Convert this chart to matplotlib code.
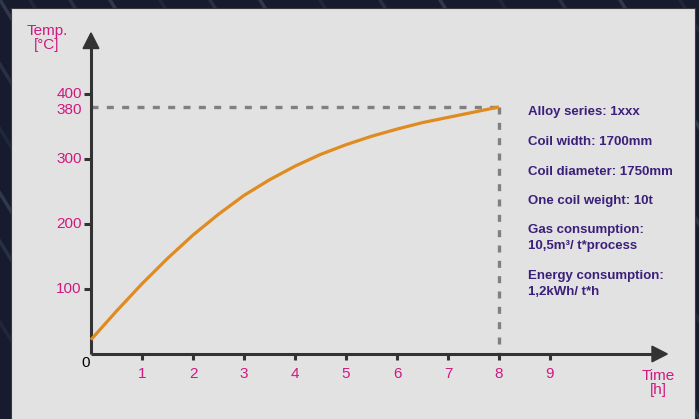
import matplotlib
matplotlib.use("Agg")
import matplotlib.pyplot as plt
from matplotlib.patches import Rectangle, Polygon
import numpy as np

# ---- data ----
hours = [0, 0.5, 1, 1.5, 2, 2.5, 3, 3.5, 4, 4.5, 5, 5.5, 6, 6.5, 7, 7.5, 8]
temps = [22, 66, 108, 147, 183, 215, 244, 268, 289, 307, 322, 335, 346, 356, 364, 372, 380]
x_ticks = [1, 2, 3, 4, 5, 6, 7, 8, 9]
y_ticks = [100, 200, 300, 380, 400]
end_time = 8
end_temp = 380
info_lines = [
    ("Alloy series: 1xxx", 112),
    ("Coil width: 1700mm", 142),
    ("Coil diameter: 1750mm", 172),
    ("One coil weight: 10t", 201),
    ("Gas consumption:", 230),
    ("10,5m\u00b3/ t*process", 246),
    ("Energy consumption:", 276),
    ("1,2kWh/ t*h", 292),
]

plt.rcParams['font.family'] = ['Liberation Sans', 'DejaVu Sans']

W, H = 699, 419
fig = plt.figure(figsize=(W / 100, H / 100), dpi=100)
fig.patch.set_facecolor('#161c2e')

def fx(px):
    return px / W

def fy(py):
    return 1 - py / H

# background streaks
rng_x = [-200, -150, -120, -80, -40, 0, 30, 70, 110, 160, 210, 260, 320, 380, 440, 500, 560, 620, 680]
for i, x0 in enumerate(rng_x):
    alpha = 0.08 + 0.06 * ((i * 7) % 3)
    fig.add_artist(plt.Line2D([fx(x0), fx(x0 + 260)], [fy(0), fy(419)],
                              transform=fig.transFigure, color='#a4adc2',
                              lw=2.5, alpha=alpha, zorder=0))

# panel
fig.add_artist(Rectangle((fx(11), fy(425)), fx(684), (425 - 8) / H,
                         transform=fig.transFigure, facecolor='#e2e2e2',
                         edgecolor='#3a3a3a', lw=0.8, zorder=1))

# axes: origin at px (91, 354), 51 px/h, 0.65 px/deg
left, right = 91, 91 + 51 * 11.5
bottom, top = 354, 354 - 0.65 * 500
ax = fig.add_axes([fx(left), fy(bottom), (right - left) / W, (bottom - top) / H])
ax.set_zorder(5)
ax.set_xlim(0, 11.5)
ax.set_ylim(0, 500)
ax.patch.set_alpha(0)
for s in ax.spines.values():
    s.set_visible(False)
ax.set_xticks([])
ax.set_yticks([])

axcol = '#333333'
mag = '#d0197f'

# axis lines
ax.plot([0, 11.05], [0, 0], color=axcol, lw=2.2, clip_on=False, solid_capstyle='butt', zorder=3)
ax.plot([0, 0], [0, 472], color=axcol, lw=2.2, clip_on=False, solid_capstyle='butt', zorder=3)
# arrowheads
ax.add_patch(Polygon([[11.0, 12], [11.3, 0], [11.0, -12]], closed=True, color=axcol, clip_on=False, zorder=3))
ax.add_patch(Polygon([[-0.155, 470], [0, 494], [0.155, 470]], closed=True, color=axcol, clip_on=False, zorder=3))

# ticks
for t in x_ticks:
    ax.plot([t, t], [0, -9], color=axcol, lw=2.2, clip_on=False, solid_capstyle='butt', zorder=3)
    ax.text(t, -20, str(t), color=mag, fontsize=11, ha='center', va='top')
for v in [100, 200, 300, 400]:
    ax.plot([0, -0.13], [v, v], color=axcol, lw=2.2, clip_on=False, solid_capstyle='butt', zorder=3)
for v in y_ticks:
    off = -5 if v == 380 else 0
    ax.text(-0.18, v + off, str(v), color=mag, fontsize=11, ha='right', va='center')
ax.text(-0.03, -3, '0', color='black', fontsize=11, ha='right', va='top')

# dashed guides
ax.plot([0, end_time], [end_temp, end_temp], color='#808080', lw=2.4,
        dashes=(2.1, 2.5), clip_on=False, zorder=2)
ax.plot([end_time, end_time], [end_temp, 0], color='#808080', lw=2.4,
        dashes=(2.1, 2.5), clip_on=False, zorder=2)

# curve
ax.plot(hours, temps, color='#e08b20', lw=2.3, clip_on=False, zorder=4,
        solid_capstyle='butt', solid_joinstyle='round')

# axis titles
fig.text(fx(47), fy(38), 'Temp.\n[\u00b0C]', color=mag, fontsize=11, ha='center',
         va='center', linespacing=1.05, zorder=6)
fig.text(fx(658), fy(383), 'Time\n[h]', color=mag, fontsize=11, ha='center',
         va='center', linespacing=1.05, zorder=6)

# info text
for txt, py in info_lines:
    fig.text(fx(528), fy(py), txt, color='#3b1f7a', fontsize=9.5,
             fontweight='bold', ha='left', va='center', zorder=6)

fig.savefig('out.png', dpi=100, facecolor=fig.get_facecolor())
